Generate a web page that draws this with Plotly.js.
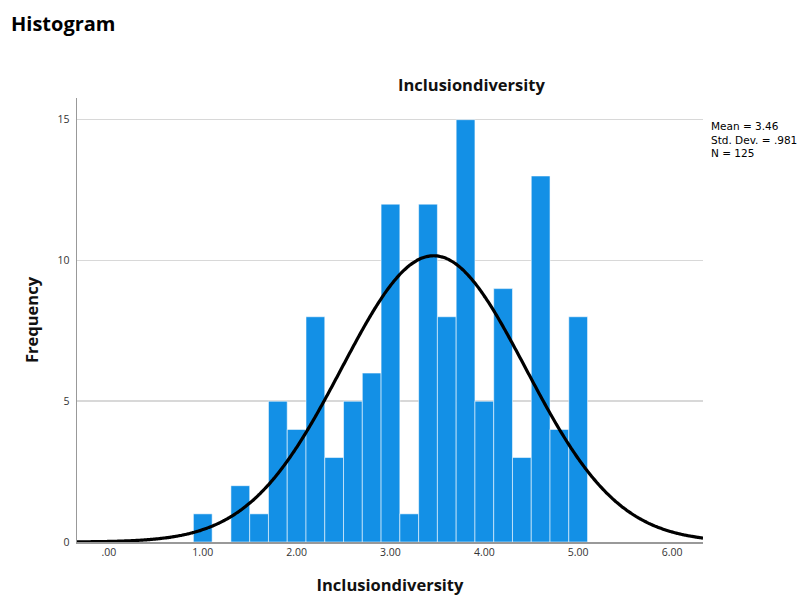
<!DOCTYPE html>
<html>
<head>
<meta charset="utf-8">
<script src="https://cdn.plot.ly/plotly-3.0.1.min.js"></script>
<style>
  html, body { margin: 0; padding: 0; background: #fff; }
  #chart { width: 804px; height: 597px; }
</style>
</head>
<body>
<div id="chart"></div>
<script>
// Histogram bins (centres) and frequencies
const binCenters = [1.0, 1.2, 1.4, 1.6, 1.8, 2.0, 2.2, 2.4, 2.6, 2.8, 3.0, 3.2, 3.4, 3.6, 3.8, 4.0, 4.2, 4.4, 4.6, 4.8, 5.0];
const frequencies = [1, 0, 2, 1, 5, 4, 8, 3, 5, 6, 12, 1, 12, 8, 15, 5, 9, 3, 13, 4, 8];
const binWidth = 0.2;

// Summary statistics shown in the reference
const meanVal = 3.46;
const sdVal = 0.981;
const nVal = 125;
const statLines = ['Mean = 3.46', 'Std. Dev. = .981', 'N = 125'];

// Axis ticks
const xTickVals = [0, 1, 2, 3, 4, 5, 6];
const xTickText = [".00", "1.00", "2.00", "3.00", "4.00", "5.00", "6.00"];
const yTickVals = [0, 5, 10, 15];

const xRange = [-0.34, 6.33];
const yRange = [0, 15.77];

// Fitted normal curve (defined by the displayed mean, sd and N)
const curveX = [];
const curveY = [];
for (let i = 0; i <= 400; i++) {
  const x = xRange[0] + (xRange[1] - xRange[0]) * i / 400;
  const z = (x - meanVal) / sdVal;
  curveX.push(x);
  curveY.push(nVal * binWidth * Math.exp(-0.5 * z * z) / (sdVal * Math.sqrt(2 * Math.PI)));
}

const fontFam = '"Open Sans", "Liberation Sans", sans-serif';
const PW = 626, PH = 444, ML = 77, MT = 98;
const px = v => (v - ML) / PW;
const py = v => 1 - (v - MT) / PH;

const traces = [
  {
    type: 'bar',
    x: binCenters,
    y: frequencies,
    width: binWidth,
    marker: { color: '#1390e6', line: { color: 'rgba(255,255,255,0.55)', width: 1 } },
    hoverinfo: 'x+y'
  },
  {
    type: 'scatter',
    mode: 'lines',
    x: curveX,
    y: curveY,
    line: { color: '#000', width: 3.2, shape: 'spline' },
    hoverinfo: 'skip'
  }
];

const annotations = [
  {
    text: '<b>Histogram</b>', xref: 'paper', yref: 'paper',
    x: px(9), y: py(23), xanchor: 'left', yanchor: 'middle',
    showarrow: false, font: { size: 20, family: fontFam, color: '#000' }
  },
  {
    text: '<b>Inclusiondiversity</b>', xref: 'paper', yref: 'paper',
    x: px(471), y: py(85), xanchor: 'center', yanchor: 'middle',
    showarrow: false, font: { size: 16.5, family: fontFam, color: '#111' }
  },
  {
    text: statLines.join('<br>'), xref: 'paper', yref: 'paper',
    x: px(709), y: py(118), xanchor: 'left', yanchor: 'top', align: 'left',
    showarrow: false, font: { size: 10.5, family: '"DejaVu Sans", sans-serif', color: '#000' }
  }
];

const layout = {
  width: 804,
  height: 597,
  paper_bgcolor: '#fff',
  plot_bgcolor: '#fff',
  showlegend: false,
  bargap: 0,
  margin: { l: ML, r: 804 - ML - PW, t: MT, b: 597 - MT - PH, pad: 0 },
  font: { family: fontFam, color: '#222' },
  xaxis: {
    range: xRange,
    tickvals: xTickVals,
    ticktext: xTickText,
    showgrid: false,
    zeroline: false,
    showline: true,
    linecolor: '#999',
    linewidth: 1.5,
    ticks: '',
    tickfont: { size: 10.5, family: fontFam, color: '#333' },
    title: { text: 'Inclusiondiversity', font: { size: 16.5, family: fontFam, color: '#111', weight: 'bold' }, standoff: 21 },
    fixedrange: true
  },
  yaxis: {
    range: yRange,
    tickvals: yTickVals,
    showgrid: true,
    gridcolor: '#d8d8d8',
    gridwidth: 1.5,
    zeroline: false,
    showline: true,
    linecolor: '#999',
    linewidth: 1.5,
    ticks: '',
    ticklabelstandoff: 4,
    tickfont: { size: 10.5, family: fontFam, color: '#333' },
    title: { text: 'Frequency', font: { size: 16.5, family: fontFam, color: '#111', weight: 'bold' }, standoff: 14 },
    fixedrange: true
  },
  annotations: annotations
};

Plotly.newPlot('chart', traces, layout, { displayModeBar: false, staticPlot: true });
</script>
</body>
</html>
